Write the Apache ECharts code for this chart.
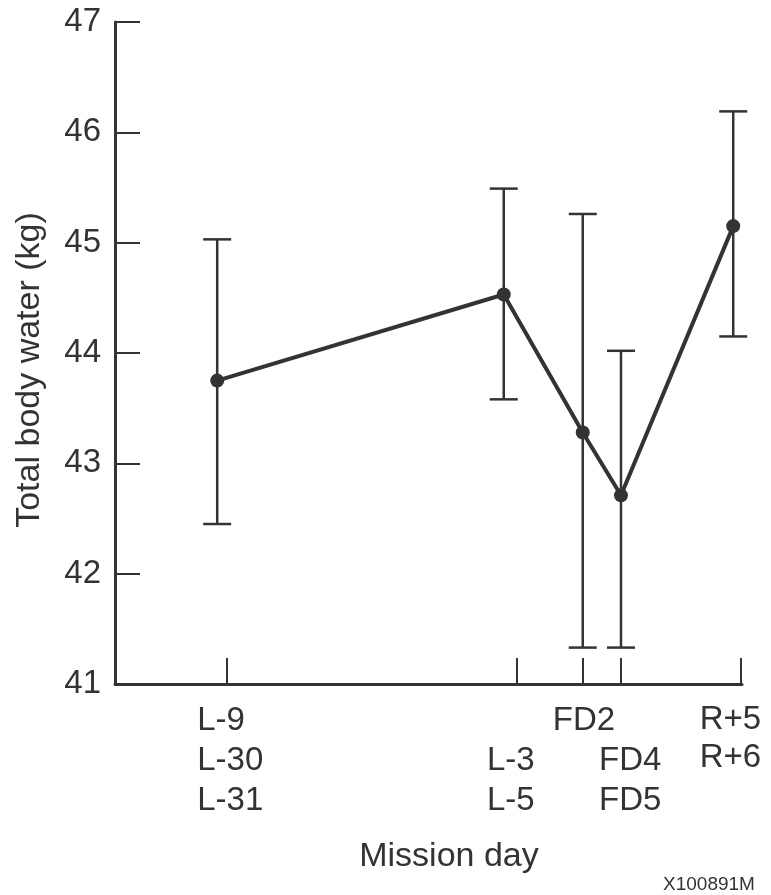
<!DOCTYPE html>
<html>
<head>
<meta charset="utf-8">
<script src="https://cdn.jsdelivr.net/npm/echarts@6/dist/echarts.min.js"></script>
<style>
  html, body { margin: 0; padding: 0; background: #fff; }
  #chart { width: 771px; height: 895px; }
</style>
</head>
<body>
<div id="chart"></div>
<script>
// mission days (position along the x axis, arbitrary units)
var tickPos = [17.9, 64.1, 74.6, 80.7, 99.8]
var tickLabels = [['L-9', 'L-30', 'L-31'], ['', 'L-3', 'L-5'], ['FD2'], ['', 'FD4', 'FD5'], ['R+5', 'R+6']]
var pointPos = [16.3, 62.0, 74.6, 80.7, 98.6]
// total body water, kg
var meanTBW = [43.75, 44.53, 43.28, 42.71, 45.15]
var upperTBW = [45.03, 45.49, 45.26, 44.02, 46.19]
var lowerTBW = [42.45, 43.58, 41.33, 41.33, 44.15]
var yMin = 41, yMax = 47

var ink = '#333'
var font = 'Liberation Sans, Arial, Helvetica, sans-serif'

var chart = echarts.init(document.getElementById('chart'))

var lineData = pointPos.map(function (x, i) { return [x, meanTBW[i]] })
var barData = pointPos.map(function (x, i) { return [x, lowerTBW[i], upperTBW[i]] })

// label blocks are left aligned, some of them nudged off their tick
var richKey = ['b', 'b', 'b', 'f', 'r']
var base = { width: 60, align: 'left', fontSize: 33, lineHeight: 40, color: ink, fontFamily: font }

var option = {
  backgroundColor: '#fff',
  animation: false,
  grid: { left: 115, right: 29, top: 22, bottom: 211, outerBoundsMode: 'none', containLabel: false },
  xAxis: {
    type: 'value',
    min: 0,
    max: 100,
    splitLine: { show: false },
    axisLine: { lineStyle: { color: ink, width: 3 } },
    axisTick: {
      customValues: tickPos,
      inside: true,
      length: 26,
      lineStyle: { color: ink, width: 2 }
    },
    axisLabel: {
      customValues: tickPos,
      margin: 17,
      verticalAlign: 'top',
      hideOverlap: false,
      formatter: function (value) {
        var idx = tickPos.indexOf(value)
        if (idx < 0) return ''
        var k = richKey[idx]
        return tickLabels[idx].map(function (t) { return '{' + k + '|' + (t || ' ') + '}' }).join('\n')
      },
      rich: {
        b: base,
        f: Object.assign({}, base, { padding: [0, 0, 0, 16] }),
        r: Object.assign({}, base, { padding: [0, 22, 0, 0], lineHeight: 38 })
      }
    }
  },
  yAxis: {
    type: 'value',
    min: yMin,
    max: yMax,
    interval: 1,
    splitLine: { show: false },
    axisLine: { show: true, lineStyle: { color: ink, width: 3 } },
    axisTick: { inside: true, length: 25, lineStyle: { color: ink, width: 2 } },
    axisLabel: { fontSize: 33, color: ink, margin: 14, fontFamily: font }
  },
  graphic: [
    {
      type: 'text',
      x: 30,
      y: 370,
      rotation: Math.PI / 2,
      style: { text: 'Total body water (kg)', fontSize: 34, fill: ink, fontFamily: font, align: 'center', verticalAlign: 'middle' }
    },
    {
      type: 'text',
      x: 449,
      y: 857,
      style: { text: 'Mission day', fontSize: 34, fill: ink, fontFamily: font, align: 'center', verticalAlign: 'middle' }
    },
    {
      type: 'text',
      x: 709,
      y: 885,
      style: { text: 'X100891M', fontSize: 19, fill: ink, fontFamily: font, align: 'center', verticalAlign: 'middle' }
    }
  ],
  series: [
    {
      type: 'custom',
      data: barData,
      z: 2,
      renderItem: function (params, api) {
        var lo = api.coord([api.value(0), api.value(1)])
        var hi = api.coord([api.value(0), api.value(2)])
        var half = 14
        var style = { stroke: ink, lineWidth: 2.5 }
        return {
          type: 'group',
          children: [
            { type: 'line', shape: { x1: lo[0], y1: lo[1], x2: hi[0], y2: hi[1] }, style: style },
            { type: 'line', shape: { x1: hi[0] - half, y1: hi[1], x2: hi[0] + half, y2: hi[1] }, style: style },
            { type: 'line', shape: { x1: lo[0] - half, y1: lo[1], x2: lo[0] + half, y2: lo[1] }, style: style }
          ]
        }
      }
    },
    {
      type: 'line',
      data: lineData,
      z: 3,
      symbol: 'circle',
      symbolSize: 14,
      lineStyle: { color: ink, width: 4 },
      itemStyle: { color: ink }
    }
  ]
}

chart.setOption(option)
</script>
</body>
</html>
